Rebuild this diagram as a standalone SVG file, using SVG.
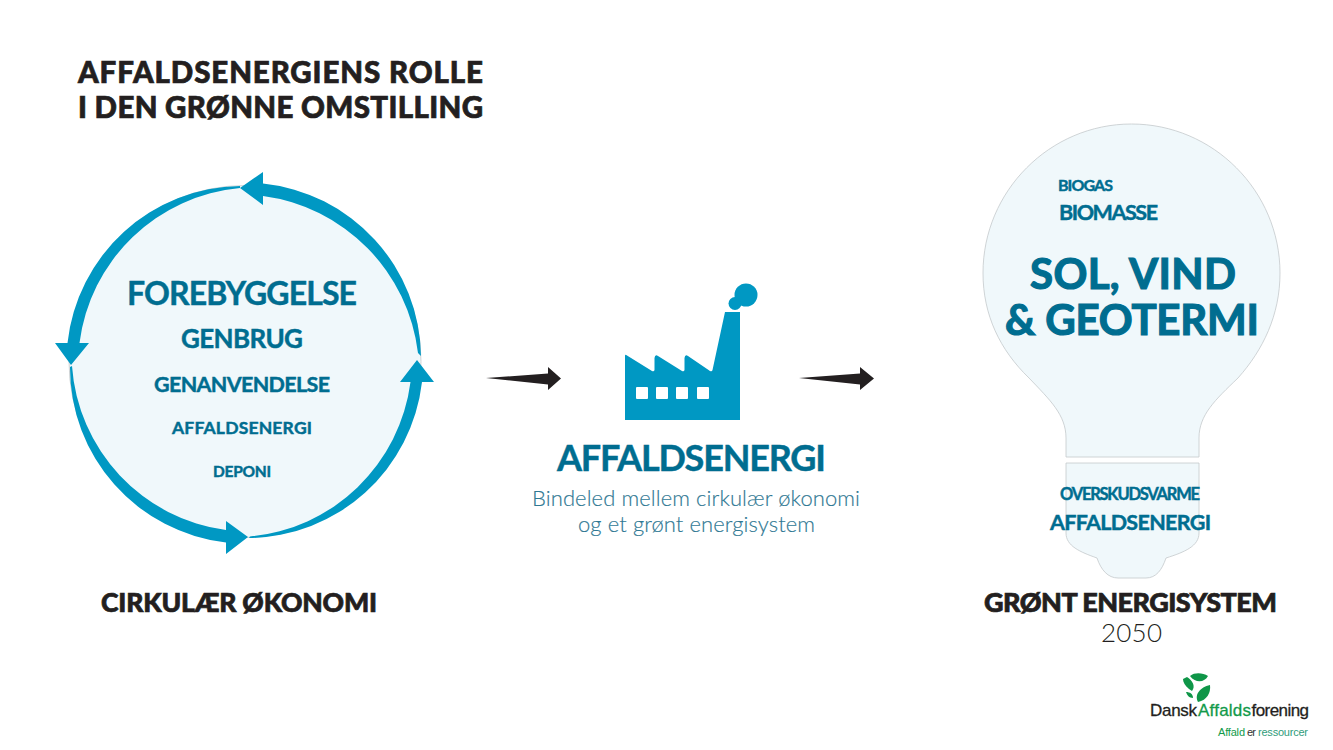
<svg xmlns="http://www.w3.org/2000/svg" width="1333" height="750" viewBox="0 0 1333 750">
<style>
text{font-family:Lato,"Liberation Sans",sans-serif}
.k{fill:#231f20;stroke:#231f20;stroke-width:.7;font-weight:900}
.t{fill:#006d90;stroke:#006d90;stroke-width:.45;font-weight:700}
.s{fill:#2f7893;stroke:#2f7893;stroke-width:.15;font-weight:300}
.b{fill:#0098c3}
.pale{fill:#f0f8fb;stroke:#c4c9cb;stroke-width:.8}
.g{fill:#0f9648}
.l{font-family:"Liberation Sans",Arial,sans-serif}
.n{fill:#231f20;stroke:#231f20;stroke-width:.3}
.v{fill:#129a4a;stroke:#129a4a;stroke-width:.3}
</style>
<rect width="1333" height="750" fill="#fff"/>
<g id="title">
<text class="k" x="78" y="83" font-size="29.500" textLength="405">AFFALDSENERGIENS ROLLE</text>
<text class="k" x="78" y="117.500" font-size="29.500" textLength="405">I DEN GRØNNE OMSTILLING</text>
</g>
<g id="circular-economy">
<circle class="pale" cx="245" cy="361.5" r="176"/>
<path class="b" d="M240 188L263 172V183.500A176 176 0 0 1 421 356L418 353A180 180 0 0 0 263 196V205Z"/>
<path class="b" d="M71 365L55 343H67.500A176 176 0 0 1 240 186L240 188A178 178 0 0 0 79.500 343H89Z"/>
<path class="b" d="M248 537L226 554V542.500A176 176 0 0 1 70 367L72 366A178 178 0 0 0 226 530V521Z"/>
<path class="b" d="M417 360L434 382H422A176 176 0 0 1 249 538L250 536.500A178 178 0 0 0 410.500 382H400Z"/>
<text class="t" x="127" y="304.500" font-size="32" textLength="230">FOREBYGGELSE</text>
<text class="t" x="181" y="347.500" font-size="26" textLength="122">GENBRUG</text>
<text class="t" x="154" y="391.500" font-size="21.500" textLength="176">GENANVENDELSE</text>
<text class="t" x="172" y="433.500" font-size="17.500" textLength="140">AFFALDSENERGI</text>
<text class="t" x="213" y="477" font-size="15.500" textLength="58">DEPONI</text>
<text class="k" x="101" y="612" font-size="26.500" textLength="276">CIRKULÆR ØKONOMI</text>
</g>
<g id="connectors" fill="#231f20">
<path d="M486 378L548 373.500V367L561 378.500L548 390V384.500Z"/>
<path d="M799 378L860 373.500V367L874 378.500L860 390V384.500Z"/>
</g>
<g id="waste-energy">
<path class="b" d="M625 356Q625 354 627 355.500L652 371Q654 372 654.500 370V358Q655 354 658 356L682 371Q684 372 684.500 370V358Q685 354 688 356L710 371Q712 372 712.500 370L725 312H740V420H625Z"/>
<g fill="#fff"><rect x="636" y="387" width="12" height="12" rx="1"/><rect x="656" y="387" width="12" height="12" rx="1"/><rect x="676" y="387" width="12" height="12" rx="1"/><rect x="697" y="387" width="12" height="12" rx="1"/></g>
<circle class="b" cx="746" cy="295" r="11.500"/><circle class="b" cx="735" cy="303.500" r="6.500"/>
<text class="t" x="557" y="470.500" font-size="36" textLength="269">AFFALDSENERGI</text>
<text class="s" x="532" y="506" font-size="22" textLength="328">Bindeled mellem cirkulær økonomi</text>
<text class="s" x="578" y="532" font-size="22" textLength="237">og et grønt energisystem</text>
</g>
<g id="green-energy-system">
<path class="pale" d="M1066 457V438C1066 415 1050 400 1029 378C1000 350 983 315 983 273C983 191 1050 124 1131.500 124C1213 124 1280 191 1280 273C1280 315 1263 350 1238 378C1215 400 1199 415 1199 438V457Z"/>
<path class="pale" d="M1066 463H1199V533C1199 546 1185 552 1166 558C1162 570 1156 578 1146 578H1118C1108 578 1101 570 1097 558C1080 552 1066 546 1066 533Z"/>
<text class="t" x="1058" y="191" font-size="16" textLength="55">BIOGAS</text>
<text class="t" x="1059" y="219.500" font-size="21.500" textLength="99">BIOMASSE</text>
<text class="t" x="1030" y="289" font-size="42" textLength="206" style="stroke-width:1.2">SOL, VIND</text>
<text class="t" x="1005" y="335" font-size="42" textLength="254" style="stroke-width:1.2">&amp; GEOTERMI</text>
<text class="t" x="1060" y="499.500" font-size="16.500" textLength="140">OVERSKUDSVARME</text>
<text class="t" x="1050" y="529.500" font-size="21.500" textLength="161">AFFALDSENERGI</text>
<text class="k" x="984" y="612" font-size="27" textLength="293">GRØNT ENERGISYSTEM</text>
<text x="1101" y="642" font-size="26" font-weight="300" fill="#231f20" textLength="61">2050</text>
</g>
<g id="logo">
<path class="g" d="M1190 676C1195 672 1203 673 1208 676C1205 682 1196 684 1190 676Z"/>
<path class="g" d="M1187 677C1192 680 1196 686 1192 691L1189 689C1185 686 1183 682 1183 679Z"/>
<path class="g" d="M1186 692C1190 692 1193 694 1193 698C1189 698 1187 695 1186 692Z"/>
<path class="g" d="M1210 685C1211 693 1207 700 1198 702C1194 695 1200 687 1210 685Z"/>
<text class="l n" x="1150" y="716" font-size="17" textLength="47">Dansk</text>
<text class="l v" x="1198" y="716" font-size="17" textLength="53">Affalds</text>
<text class="l n" x="1251.500" y="716" font-size="17" textLength="57.500">forening</text>
<text class="l" x="1218" y="736" font-size="11" textLength="27" fill="#129a4a">Affald</text>
<text class="l" x="1247" y="736" font-size="11" textLength="9" fill="#333">er</text>
<text class="l" x="1258" y="736" font-size="11" textLength="50" fill="#2f9c7a">ressourcer</text>
</g>
</svg>
